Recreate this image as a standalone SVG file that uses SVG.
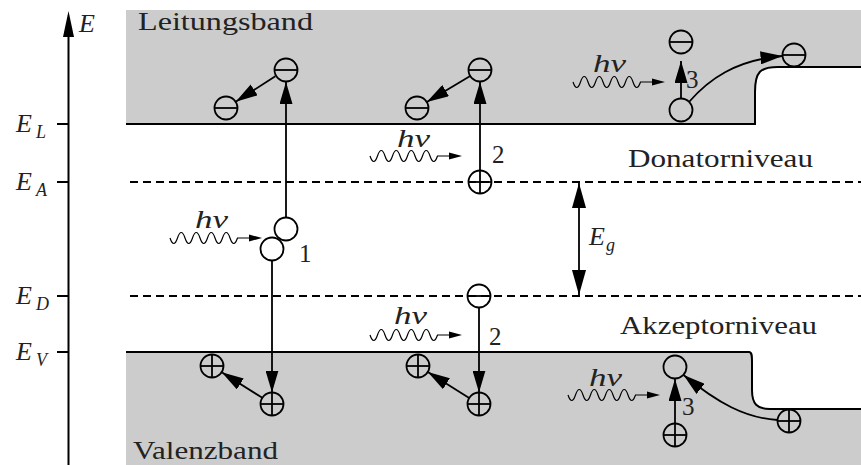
<svg xmlns="http://www.w3.org/2000/svg" width="861" height="465" viewBox="0 0 861 465">
<style>
.band{fill:#cccccc;stroke:none}
.edge{fill:none;stroke:#000;stroke-width:2}
.dash{fill:none;stroke:#000;stroke-width:2;stroke-dasharray:8 5}
.p{fill:none;stroke:#000;stroke-width:1.8}
.arr{fill:none;stroke:#000;stroke-width:1.8;marker-end:url(#ah)}
.wave{fill:none;stroke:#000;stroke-width:1.2}
.lbl{font-size:25px;fill:#222}
.it{font-style:italic;font-size:26px;fill:#222}
.sub{font-style:italic;font-size:18px;fill:#222}
</style>
<defs>
<marker id="ah" viewBox="0 0 22 13" refX="22" refY="6.5" markerWidth="22" markerHeight="13" markerUnits="userSpaceOnUse" orient="auto"><path d="M0,0 L22,6.5 L0,13 Z" fill="#000"/></marker>
<marker id="ah2" viewBox="0 0 25 14" refX="25" refY="7" markerWidth="25" markerHeight="14" markerUnits="userSpaceOnUse" orient="auto-start-reverse"><path d="M0,0 L25,7 L0,14 Z" fill="#000"/></marker>
<g id="photon">
<path class="wave" d="M0,0 q3.75,11 7.5,0 t7.5,0 t7.5,0 t7.5,0 t7.5,0 t7.5,0 t7.5,0 t7.5,0 t7.5,0 L80,0"/>
<path d="M79,-3.5 L92,0 L79,3.5 Z" fill="#000"/>
</g>
<g id="minus"><circle r="11.5" class="p"/><line x1="-11.5" y1="0" x2="11.5" y2="0" class="p"/></g>
<g id="plus"><circle r="11.5" class="p"/><line x1="-11.5" y1="0" x2="11.5" y2="0" class="p"/><line x1="0" y1="-11.5" x2="0" y2="11.5" class="p"/></g>
<g id="empty"><circle r="11.5" class="p"/></g>
</defs>

<g id="bands">
<path class="band" d="M126,10 H861 V67 H778 C760,67 755,72 755,92 V124 H126 Z"/>
<path class="band" d="M126,352 H749 C752,352 752,356 752,362 V390 C752,404 757,409 770,409 H861 V465 H126 Z"/>
<path class="edge" d="M126,124 H755 V92 C755,72 760,67 778,67 H861"/>
<path class="edge" d="M126,352 H749 C752,352 752,356 752,362 V390 C752,404 757,409 770,409 H861"/>
<line class="dash" x1="130" y1="182" x2="861" y2="182"/>
<line class="dash" x1="130" y1="296" x2="861" y2="296"/>
</g>

<g id="axis" font-family="Liberation Serif, Times New Roman, Times, serif">
<line x1="68.5" y1="30" x2="68.5" y2="465" stroke="#000" stroke-width="2"/>
<path d="M63,37 L68.5,11 L74,37 Z" fill="#000"/>
<line x1="57" y1="124" x2="69" y2="124" stroke="#000" stroke-width="2"/>
<line x1="57" y1="182" x2="69" y2="182" stroke="#000" stroke-width="2"/>
<line x1="57" y1="296" x2="69" y2="296" stroke="#000" stroke-width="2"/>
<line x1="57" y1="352" x2="69" y2="352" stroke="#000" stroke-width="2"/>
<text class="it" x="79" y="32">E</text>
<text class="it" x="16" y="132">E</text><text class="sub" x="36" y="138">L</text>
<text class="it" x="16" y="190">E</text><text class="sub" x="36" y="196">A</text>
<text class="it" x="16" y="304">E</text><text class="sub" x="36" y="310">D</text>
<text class="it" x="16" y="360">E</text><text class="sub" x="36" y="366">V</text>
</g>

<g id="labels" font-family="Liberation Serif, Times New Roman, Times, serif">
<text class="lbl" x="138" y="30" textLength="175" lengthAdjust="spacingAndGlyphs">Leitungsband</text>
<text class="lbl" x="628" y="167" textLength="185" lengthAdjust="spacingAndGlyphs">Donatorniveau</text>
<text class="lbl" x="620" y="334" textLength="197" lengthAdjust="spacingAndGlyphs">Akzeptorniveau</text>
<text class="lbl" x="133" y="459" textLength="145" lengthAdjust="spacingAndGlyphs">Valenzband</text>
<text class="lbl" x="299" y="262">1</text>
<text class="lbl" x="492" y="163">2</text>
<text class="lbl" x="489" y="345">2</text>
<text class="lbl" x="686" y="88">3</text>
<text class="lbl" x="682" y="415">3</text>
<text class="it" x="589" y="245">E</text><text class="sub" x="606" y="251">g</text>
<text class="it" x="195" y="228" textLength="33" lengthAdjust="spacingAndGlyphs">hν</text>
<text class="it" x="397" y="147" textLength="33" lengthAdjust="spacingAndGlyphs">hν</text>
<text class="it" x="394" y="324" textLength="33" lengthAdjust="spacingAndGlyphs">hν</text>
<text class="it" x="593" y="72" textLength="33" lengthAdjust="spacingAndGlyphs">hν</text>
<text class="it" x="589" y="386" textLength="33" lengthAdjust="spacingAndGlyphs">hν</text>
</g>

<g id="connectors">
<use href="#photon" transform="translate(170,238)"/>
<use href="#photon" transform="translate(370,156)"/>
<use href="#photon" transform="translate(370,335)"/>
<use href="#photon" transform="translate(573,82)"/>
<use href="#photon" transform="translate(568,395)"/>
<line class="arr" x1="286" y1="217.5" x2="286" y2="82"/>
<line class="arr" x1="275.3" y1="76.2" x2="235.7" y2="101.8"/>
<line class="arr" x1="272" y1="260.5" x2="272" y2="392.5"/>
<line class="arr" x1="262.3" y1="397.8" x2="221.7" y2="372.2"/>
<line class="arr" x1="480" y1="170.5" x2="480" y2="82"/>
<line class="arr" x1="470.2" y1="75.9" x2="426.8" y2="101.9"/>
<line class="arr" x1="479" y1="307.5" x2="479" y2="392.5"/>
<line class="arr" x1="469.2" y1="397.9" x2="427.8" y2="372.1"/>
<line class="arr" x1="681" y1="98.5" x2="681" y2="61"/>
<path class="arr" d="M689,102 C708,80 735,60 782.5,56"/>
<line class="arr" x1="675" y1="423.5" x2="675" y2="379"/>
<path class="arr" d="M777.5,420 C745,418 718,403 683.5,375"/>
<line x1="579" y1="183" x2="579" y2="295" stroke="#000" stroke-width="1.8" marker-start="url(#ah2)" marker-end="url(#ah2)"/>
</g>

<g id="c1-e-top"><use href="#minus" x="286" y="70"/></g>
<g id="c1-e-left"><use href="#minus" x="226" y="108"/></g>
<g id="c1-hole-a"><use href="#empty" x="286" y="229"/></g>
<g id="c1-hole-b"><use href="#empty" x="272" y="249"/></g>
<g id="c1-h-bottom"><use href="#plus" x="272" y="404"/></g>
<g id="c1-h-left"><use href="#plus" x="212" y="366"/></g>
<g id="c2-e-top"><use href="#minus" x="480" y="70"/></g>
<g id="c2-e-left"><use href="#minus" x="417" y="108"/></g>
<g id="c2-donor"><use href="#plus" x="480" y="182"/></g>
<g id="c2-acceptor"><use href="#minus" x="479" y="296"/></g>
<g id="c2-h-bottom"><use href="#plus" x="479" y="404"/></g>
<g id="c2-h-left"><use href="#plus" x="418" y="366"/></g>
<g id="c3-e-top"><use href="#minus" x="681" y="42"/></g>
<g id="c3-hole-top"><use href="#empty" x="681" y="110"/></g>
<g id="c3-e-step"><use href="#minus" x="794" y="55"/></g>
<g id="c3-hole-bottom"><use href="#empty" x="675" y="367"/></g>
<g id="c3-h-bottom"><use href="#plus" x="675" y="435"/></g>
<g id="c3-h-step"><use href="#plus" x="789" y="421"/></g>
</svg>
